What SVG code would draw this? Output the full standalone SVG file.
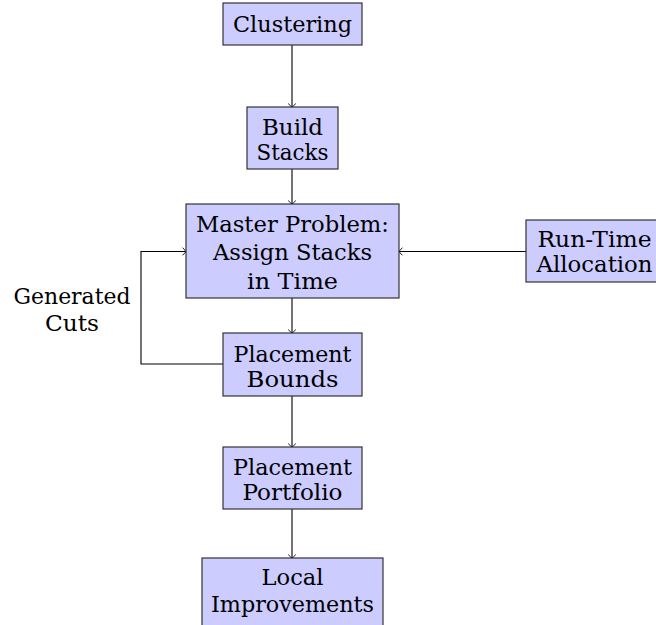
<svg xmlns="http://www.w3.org/2000/svg" width="656" height="625" viewBox="0 0 656 625">
<defs>
<marker id="arr" viewBox="-5 -5 6 10" refX="0" refY="0" markerWidth="6" markerHeight="10" markerUnits="userSpaceOnUse" orient="auto">
<path d="M -3.4 -3.8 Q -0.8 -1.2 0 0 Q -0.8 1.2 -3.4 3.8" fill="none" stroke="#000" stroke-width="0.9"/>
</marker>
<style>
.box{fill:#ccccff;stroke:#333;stroke-width:1.2}
.t{font-family:'DejaVu Serif','Liberation Serif',serif;font-size:22px;fill:#000;text-anchor:middle}
.c{fill:none;stroke:#000;stroke-width:1.1}
</style>
</defs>
<rect width="656" height="625" fill="#fff"/>
<g id="connectors">
<line class="c" x1="292" y1="45" x2="292" y2="107" marker-end="url(#arr)"/>
<line class="c" x1="292" y1="169" x2="292" y2="204" marker-end="url(#arr)"/>
<line class="c" x1="292" y1="298" x2="292" y2="333" marker-end="url(#arr)"/>
<line class="c" x1="292" y1="396" x2="292" y2="447" marker-end="url(#arr)"/>
<line class="c" x1="292" y1="509" x2="292" y2="558" marker-end="url(#arr)"/>
<line class="c" x1="526" y1="251.5" x2="399" y2="251.5" marker-end="url(#arr)"/>
<polyline class="c" points="223,364 141,364 141,251.5 186,251.5" marker-end="url(#arr)"/>
<text class="t" x="72" y="304" textLength="117" lengthAdjust="spacingAndGlyphs">Generated</text>
<text class="t" x="72" y="331" textLength="54" lengthAdjust="spacingAndGlyphs">Cuts</text>
</g>
<g id="clustering">
<rect class="box" x="223" y="3" width="139" height="42"/>
<text class="t" x="292.5" y="32" textLength="119" lengthAdjust="spacingAndGlyphs">Clustering</text>
</g>
<g id="build-stacks">
<rect class="box" x="247" y="107" width="91" height="62"/>
<text class="t" x="292.5" y="135" textLength="61" lengthAdjust="spacingAndGlyphs">Build</text>
<text class="t" x="292.5" y="160" textLength="72" lengthAdjust="spacingAndGlyphs">Stacks</text>
</g>
<g id="master-problem">
<rect class="box" x="186" y="204" width="213" height="94"/>
<text class="t" x="292.5" y="232" textLength="193" lengthAdjust="spacingAndGlyphs">Master Problem:</text>
<text class="t" x="292.5" y="260" textLength="159" lengthAdjust="spacingAndGlyphs">Assign Stacks</text>
<text class="t" x="292.5" y="289" textLength="91" lengthAdjust="spacingAndGlyphs">in Time</text>
</g>
<g id="run-time-allocation">
<rect class="box" x="526" y="220" width="140" height="62"/>
<text class="t" x="594.5" y="246.5" textLength="114" lengthAdjust="spacingAndGlyphs">Run-Time</text>
<text class="t" x="594.5" y="271.5" textLength="116" lengthAdjust="spacingAndGlyphs">Allocation</text>
</g>
<g id="placement-bounds">
<rect class="box" x="223" y="333" width="139" height="63"/>
<text class="t" x="292.5" y="361.5" textLength="118" lengthAdjust="spacingAndGlyphs">Placement</text>
<text class="t" x="292.5" y="387" textLength="92" lengthAdjust="spacingAndGlyphs">Bounds</text>
</g>
<g id="placement-portfolio">
<rect class="box" x="223" y="447" width="139" height="62"/>
<text class="t" x="292.5" y="475" textLength="119" lengthAdjust="spacingAndGlyphs">Placement</text>
<text class="t" x="292.5" y="500" textLength="100" lengthAdjust="spacingAndGlyphs">Portfolio</text>
</g>
<g id="local-improvements">
<rect class="box" x="202" y="558" width="181" height="80"/>
<text class="t" x="292.5" y="585" textLength="62" lengthAdjust="spacingAndGlyphs">Local</text>
<text class="t" x="292.5" y="612" textLength="163" lengthAdjust="spacingAndGlyphs">Improvements</text>
</g>
</svg>
